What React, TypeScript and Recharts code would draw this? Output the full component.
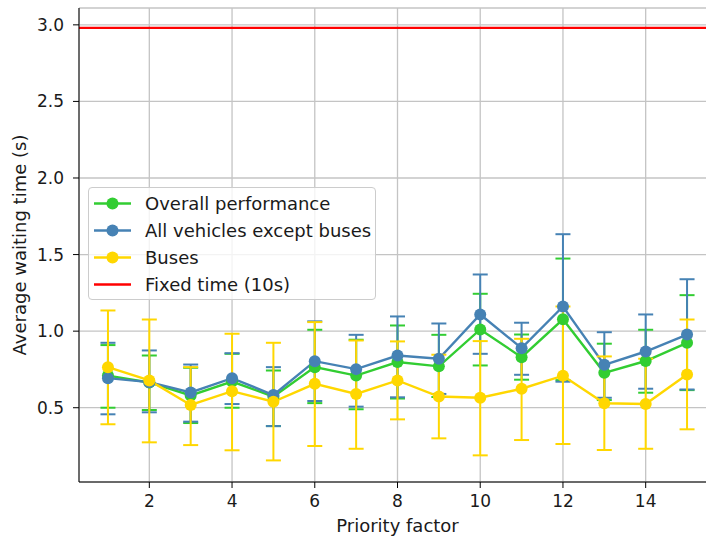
import { LineChart, Line, XAxis, YAxis, CartesianGrid, ErrorBar, ReferenceLine } from 'recharts';

// priority factor on the x axis
const factors = [1, 2, 3, 4, 5, 6, 7, 8, 9, 10, 11, 12, 13, 14, 15];

// overall performance
const overallMean = [0.71, 0.665, 0.58, 0.671, 0.572, 0.765, 0.71, 0.798, 0.77, 1.011, 0.83, 1.077, 0.728, 0.805, 0.924];
const overallLow = [0.5, 0.485, 0.4, 0.5, 0.38, 0.53, 0.49, 0.56, 0.57, 0.776, 0.683, 0.68, 0.55, 0.598, 0.615];
const overallHigh = [0.909, 0.841, 0.761, 0.852, 0.743, 1.009, 0.944, 1.037, 0.976, 1.244, 0.978, 1.474, 0.918, 1.009, 1.235];

// all vehicles except buses
const carsMean = [0.693, 0.667, 0.6, 0.693, 0.583, 0.804, 0.752, 0.841, 0.82, 1.109, 0.889, 1.161, 0.78, 0.867, 0.978];
const carsLow = [0.457, 0.47, 0.409, 0.524, 0.38, 0.544, 0.507, 0.568, 0.59, 0.852, 0.715, 0.67, 0.565, 0.624, 0.619];
const carsHigh = [0.924, 0.874, 0.782, 0.856, 0.765, 1.064, 0.976, 1.096, 1.05, 1.37, 1.055, 1.633, 0.993, 1.109, 1.339];

// buses
const busMean = [0.765, 0.678, 0.518, 0.608, 0.539, 0.656, 0.59, 0.678, 0.573, 0.565, 0.624, 0.709, 0.529, 0.524, 0.717];
const busLow = [0.392, 0.274, 0.256, 0.222, 0.156, 0.25, 0.232, 0.424, 0.3, 0.189, 0.289, 0.263, 0.224, 0.232, 0.359];
const busHigh = [1.135, 1.076, 0.765, 0.983, 0.924, 1.059, 0.939, 0.933, 0.846, 0.935, 0.95, 1.161, 0.835, 0.82, 1.076];

// fixed time (10s) baseline
const fixedTime = 2.98;

const xTicks = [2, 4, 6, 8, 10, 12, 14];
const yTicks = [0.5, 1.0, 1.5, 2.0, 2.5, 3.0];

const GREEN = '#32cd32';
const BLUE = '#4682b4';
const GOLD = '#ffd700';
const RED = '#ff0000';
const FONT = '"DejaVu Sans", sans-serif';

const data = factors.map((x, i) => ({
  x,
  overall: overallMean[i],
  overallErr: [overallMean[i] - overallLow[i], overallHigh[i] - overallMean[i]],
  cars: carsMean[i],
  carsErr: [carsMean[i] - carsLow[i], carsHigh[i] - carsMean[i]],
  bus: busMean[i],
  busErr: [busMean[i] - busLow[i], busHigh[i] - busMean[i]],
}));

const legendItems = [
  { label: 'Overall performance', color: GREEN, dot: true },
  { label: 'All vehicles except buses', color: BLUE, dot: true },
  { label: 'Buses', color: GOLD, dot: true },
  { label: 'Fixed time (10s)', color: RED, dot: false },
];

const tickStyle = { fill: '#1a1a1a', fontSize: 17, fontFamily: FONT };
const labelStyle = { fill: '#1a1a1a', fontSize: 18, fontFamily: FONT };

export default function App() {
  return (
    <div style={{ position: 'absolute', left: 0, top: 0, width: 706, height: 540, overflow: 'hidden', background: '#fff' }}>
      <LineChart width={740} height={540} data={data} margin={{ top: 8, right: 24, left: 0, bottom: 0 }}>
        <CartesianGrid stroke="#c4c4c4" strokeWidth={1.3} />
        <XAxis
          dataKey="x"
          type="number"
          domain={[0.3, 15.7]}
          ticks={xTicks}
          allowDataOverflow
          height={58}
          stroke="#000"
          tickSize={6}
          tickMargin={7}
          tick={tickStyle}
          label={{ value: 'Priority factor', position: 'insideBottom', offset: 8, style: labelStyle }}
        />
        <XAxis xAxisId="top" orientation="top" dataKey="x" type="number" domain={[0.3, 15.7]} height={0} tick={false} tickLine={false} stroke="#000" />
        <YAxis
          type="number"
          domain={[0.015, 3.11]}
          ticks={yTicks}
          allowDataOverflow
          width={79}
          stroke="#000"
          tickSize={6}
          tickMargin={9}
          tick={tickStyle}
          tickFormatter={(v: number) => v.toFixed(1)}
          label={{ value: 'Average waiting time (s)', angle: -90, position: 'insideLeft', offset: 20, style: { ...labelStyle, textAnchor: 'middle' } }}
        />
        <ReferenceLine y={fixedTime} stroke={RED} strokeWidth={2.4} />
        <Line dataKey="overall" stroke={GREEN} strokeWidth={2.4} dot={{ r: 6, fill: GREEN, stroke: 'none' }} activeDot={false} isAnimationActive={false}>
          <ErrorBar dataKey="overallErr" direction="y" width={7.5} stroke={GREEN} strokeWidth={2} />
        </Line>
        <Line dataKey="cars" stroke={BLUE} strokeWidth={2.4} dot={{ r: 6, fill: BLUE, stroke: 'none' }} activeDot={false} isAnimationActive={false}>
          <ErrorBar dataKey="carsErr" direction="y" width={7.5} stroke={BLUE} strokeWidth={2} />
        </Line>
        <Line dataKey="bus" stroke={GOLD} strokeWidth={2.4} dot={{ r: 6, fill: GOLD, stroke: 'none' }} activeDot={false} isAnimationActive={false}>
          <ErrorBar dataKey="busErr" direction="y" width={7.5} stroke={GOLD} strokeWidth={2} />
        </Line>
      </LineChart>

      <div
        style={{
          position: 'absolute',
          left: 88,
          top: 187,
          width: 286,
          height: 111,
          border: '1px solid #cccccc',
          borderRadius: 4,
          background: 'rgba(255,255,255,0.8)',
          fontFamily: FONT,
          fontSize: 18,
          color: '#1a1a1a',
        }}
      >
        {legendItems.map((item, i) => (
          <div key={item.label} style={{ position: 'absolute', left: 0, top: 2 + i * 27, height: 27, width: '100%' }}>
            <svg width={38} height={27} style={{ position: 'absolute', left: 5, top: 0 }}>
              <line x1={0} y1={13.5} x2={37} y2={13.5} stroke={item.color} strokeWidth={2.4} />
              {item.dot && <circle cx={18.5} cy={13.5} r={6} fill={item.color} />}
            </svg>
            <span style={{ position: 'absolute', left: 56, top: 0, lineHeight: '27px', whiteSpace: 'nowrap' }}>{item.label}</span>
          </div>
        ))}
      </div>
    </div>
  );
}
